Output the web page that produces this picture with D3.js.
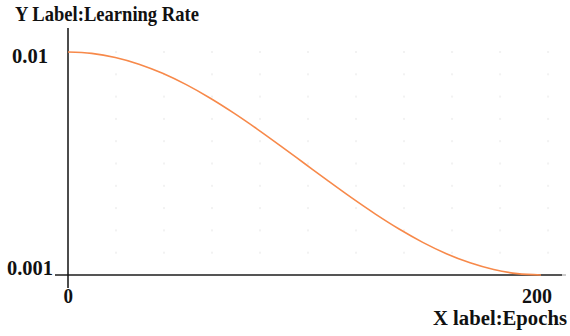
<!DOCTYPE html>
<html><head><meta charset="utf-8">
<script src="https://cdn.jsdelivr.net/npm/d3@7"></script>
<style>html,body{margin:0;padding:0;background:#fff;}svg{display:block;}</style>
</head><body>
<script>
const epochs = [0,10,20,30,40,50,60,70,80,90,100,110,120,130,140,150,160,170,180,190,200];
const learningRate = [0.01,0.009945,0.00978,0.00951,0.009141,0.008682,0.008145,0.007543,0.006891,0.006204,0.0055,0.004796,0.004109,0.003457,0.002855,0.002318,0.001859,0.00149,0.00122,0.001055,0.001];
const xTicks = [0, 200];
const yTicks = [0.001, 0.01];
const yTickLabels = ["0.001", "0.01"];
const gridEpochs = [20.3,40.6,60.9,81.2,101.5,121.8,142.1,162.4,182.7,203];
const gridRates = [0.0019,0.0028,0.0037,0.0046,0.0055,0.0064,0.0073,0.0082,0.0091,0.01];
const yTitle = "Y Label:Learning Rate";
const xTitle = "X label:Epochs";

const W = 570, H = 336;
const svg = d3.select("body").append("svg").attr("width", W).attr("height", H);
const x = d3.scaleLinear().domain([0, 200]).range([68, 541]);
const y = d3.scaleLinear().domain([0.001, 0.01]).range([275, 52]);
const font = "'Liberation Serif','Times New Roman',serif";

// place text so that it spans [left,right] with given baseline
function fitText(str, left, right, baseline, size) {
  const t = svg.append("text").attr("font-family", font).attr("font-weight", "bold")
    .attr("font-size", size).attr("fill", "#111").text(str);
  const w = t.node().getComputedTextLength();
  const s = (right - left) / w;
  t.attr("transform", `translate(${left},${baseline}) scale(${s},1)`);
  return t;
}

// faint grid dots
const g = svg.append("g");
gridEpochs.forEach(e => gridRates.forEach(r => {
  g.append("rect").attr("x", x(e) - 1).attr("y", y(r) - 1).attr("width", 2).attr("height", 2).attr("fill", "#f2f2f2");
}));

// x axis
svg.append("line").attr("x1", 55).attr("x2", 562).attr("y1", y(0.001)).attr("y2", y(0.001))
  .attr("stroke", "#555").attr("stroke-width", 2);
svg.append("line").attr("x1", 562).attr("x2", 566).attr("y1", y(0.001)).attr("y2", y(0.001))
  .attr("stroke", "#ccc").attr("stroke-width", 2);
// y axis
svg.append("line").attr("x1", x(0)).attr("x2", x(0)).attr("y1", 28).attr("y2", 288)
  .attr("stroke", "#111").attr("stroke-width", 1.5);

// line
const line = d3.line().x((d, i) => x(epochs[i])).y(d => y(d)).curve(d3.curveMonotoneX);
svg.append("path").datum(learningRate).attr("d", line).attr("fill", "none")
  .attr("stroke", "#f7894a").attr("stroke-width", 1.6);

// y tick labels
fitText(yTickLabels[0], 7, 53, y(yTicks[0]), 22);
fitText(yTickLabels[1], 12, 48, y(yTicks[1]) + 11, 22);
// x tick labels
fitText(String(xTicks[0]), x(xTicks[0]) - 4.5, x(xTicks[0]) + 5, 303, 22);
fitText(String(xTicks[1]), x(xTicks[1]) - 19, x(xTicks[1]) + 11, 303, 22);

fitText(yTitle, 15, 199, 20.5, 21);
fitText(xTitle, 433, 567, 325, 21);
</script>
</body></html>
